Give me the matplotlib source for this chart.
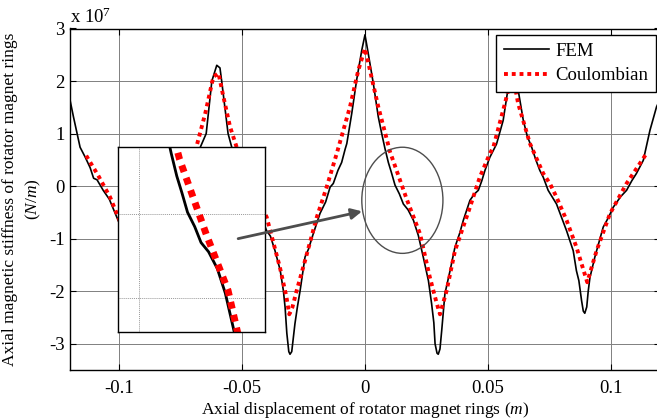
import matplotlib
matplotlib.use("Agg")
import matplotlib.pyplot as plt
from matplotlib.patches import Ellipse, FancyArrowPatch

plt.rcParams['font.family'] = 'Liberation Serif'
plt.rcParams['mathtext.fontset'] = 'custom'
plt.rcParams['mathtext.rm'] = 'Liberation Serif'
plt.rcParams['mathtext.it'] = 'Liberation Serif:italic'
plt.rcParams['axes.unicode_minus'] = False

# stiffness values in units of 1e7 N/m
fem_x = [-0.1200, -0.1186, -0.1159, -0.1138, -0.1118, -0.1104, -0.1090, -0.1065, -0.1040,
         -0.1000, -0.0960, -0.0930, -0.0915, -0.0905, -0.0895, -0.0885, -0.0870, -0.0850,
         -0.0820, -0.0780, -0.0740, -0.0710, -0.0680,
         -0.0670, -0.0646, -0.0623, -0.0603, -0.0590, -0.0583, -0.0557, -0.0542,
         -0.0520, -0.0490, -0.0460, -0.0430,
         -0.0400, -0.0385, -0.0366, -0.0345, -0.0332, -0.0325, -0.0318, -0.0310, -0.0305,
         -0.0298, -0.0292, -0.0285, -0.0275, -0.0264, -0.0244, -0.0230, -0.0210, -0.0183,
         -0.0160, -0.0142, -0.0129, -0.0110, -0.0095, -0.0081, -0.0074, -0.0054, -0.0034,
         -0.0013, 0.0000, 0.0013, 0.0034, 0.0054, 0.0068, 0.0081, 0.0095, 0.0108, 0.0122,
         0.0140, 0.0156, 0.0175, 0.0197, 0.0217, 0.0237, 0.0258, 0.0271, 0.0280, 0.0285,
         0.0293, 0.0298, 0.0305, 0.0312, 0.0325, 0.0346, 0.0366, 0.0385, 0.0400, 0.0427,
         0.0445, 0.0461, 0.0475, 0.0488, 0.0508, 0.0535, 0.0562, 0.0583, 0.0595, 0.0603,
         0.0612, 0.0623, 0.0644, 0.0660, 0.0678, 0.0695, 0.0711, 0.0725, 0.0745, 0.0779,
         0.0800, 0.0820, 0.0847, 0.0860, 0.0870, 0.0881, 0.0888, 0.0894, 0.0902, 0.0908,
         0.0915, 0.0935, 0.0950, 0.0969, 0.0990, 0.1010, 0.1040, 0.1064, 0.1085, 0.1104,
         0.1132, 0.1159, 0.1186, 0.1200]
fem_k = [1.64, 1.32, 0.74, 0.55, 0.35, 0.15, 0.12, -0.08, -0.25,
         -0.70, -1.25, -1.75, -2.10, -2.40, -2.35, -2.00, -1.60, -1.25,
         -0.85, -0.35, 0.05, 0.35, 0.62,
         0.74, 1.00, 2.00, 2.30, 2.25, 2.00, 1.00, 0.74,
         0.45, 0.10, -0.20, -0.50,
         -0.85, -0.95, -1.23, -1.60, -1.99, -2.31, -2.80, -3.15, -3.20,
         -3.15, -2.90, -2.62, -2.30, -1.99, -1.35, -1.20, -0.90, -0.52,
         -0.30, -0.02, 0.05, 0.30, 0.45, 0.70, 0.81, 1.38, 2.02,
         2.59, 2.88, 2.53, 1.95, 1.32, 1.00, 0.72, 0.45, 0.25, 0.02,
         -0.15, -0.34, -0.45, -0.65, -0.94, -1.35, -1.80, -2.24, -2.60, -3.00,
         -3.18, -3.20, -3.10, -2.75, -2.05, -1.61, -1.16, -0.90, -0.65, -0.27,
         -0.15, -0.08, 0.10, 0.30, 0.55, 0.80, 1.25, 1.89, 2.20, 2.30,
         2.20, 1.83, 1.25, 0.95, 0.74, 0.50, 0.30, 0.17, -0.08, -0.34,
         -0.60, -0.85, -1.23, -1.61, -1.80, -2.18, -2.38, -2.42, -2.30, -2.00,
         -1.74, -1.35, -1.10, -0.78, -0.60, -0.40, -0.20, -0.08, 0.10, 0.24,
         0.49, 1.06, 1.51, 1.65]

coul_x = [-0.1134, -0.1085, -0.1037, -0.0990, -0.0950, -0.0920, -0.0900, -0.0880, -0.0850,
          -0.0800, -0.0760, -0.0720, -0.0684, -0.0650, -0.0617, -0.0596, -0.0576, -0.0549,
          -0.0522, -0.0480, -0.0440, -0.0400, -0.0346, -0.0320, -0.0308, -0.0295, -0.0278,
          -0.0244, -0.0196, -0.0156, -0.0115, -0.0061, -0.0027, 0.0000, 0.0020, 0.0054,
          0.0102, 0.0169, 0.0224, 0.0264, 0.0290, 0.0305, 0.0332, 0.0366, 0.0427, 0.0467,
          0.0508, 0.0522, 0.0569, 0.0600, 0.0623, 0.0671, 0.0725, 0.0752, 0.0779, 0.0820,
          0.0860, 0.0904, 0.0942, 0.0996, 0.1064, 0.1145]
coul_k = [0.58, 0.20, -0.21, -0.75, -1.25, -1.65, -1.83, -1.60, -1.20,
          -0.60, -0.10, 0.35, 0.78, 1.38, 2.08, 2.15, 1.70, 1.13,
          0.74, 0.20, -0.20, -0.59, -1.55, -2.10, -2.44, -2.30, -1.99,
          -1.42, -0.59, -0.02, 0.62, 1.51, 2.21, 2.62, 2.21, 1.51,
          0.65, -0.24, -0.91, -1.74, -2.20, -2.44, -1.99, -1.23, -0.40, 0.17,
          0.62, 0.74, 1.57, 2.15, 1.57, 0.81, 0.24, 0.05, -0.21, -0.65,
          -1.16, -1.83, -1.23, -0.53, 0.05, 0.62]

x_ticks = [-0.1, -0.05, 0, 0.05, 0.1]
x_ticklabels = ['-0.1', '-0.05', '0', '0.05', '0.1']
y_ticks = [-3, -2, -1, 0, 1, 2, 3]
y_ticklabels = ['-3', '-2', '-1', '0', '1', '2', '3']

W, H = 657, 420
fig = plt.figure(figsize=(6.57, 4.2), dpi=100)
ax = fig.add_axes([70 / W, 50 / H, 590 / W, 341.5 / H])

ax.plot(fem_x, fem_k, color='black', lw=1.2, label='FEM', zorder=3)
ax.plot(coul_x, coul_k, color='red', lw=2.8, dashes=(1, 1), label='Coulombian', zorder=3)

ax.set_xlim(-0.12, 0.12)
ax.set_ylim(-3.5, 3)
ax.set_xticks(x_ticks)
ax.set_xticklabels(x_ticklabels)
ax.set_yticks(y_ticks)
ax.set_yticklabels(y_ticklabels)
ax.tick_params(direction='in', top=True, right=True, length=4, width=0.8,
               labelsize=13.5)
ax.tick_params(axis='x', pad=7)
ax.tick_params(axis='y', pad=4)
ax.grid(True, color='0.5', lw=0.7)
for s in ax.spines.values():
    s.set_linewidth(1.0)

ax.text(0.0, 1.005, r'x 10$^7$', transform=ax.transAxes, fontsize=13.5,
        ha='left', va='bottom')
ax.set_xlabel(r'Axial displacement of rotator magnet rings ($m$)', fontsize=12.5, labelpad=2)
ax.set_ylabel('Axial magnetic stiffness of rotator magnet rings\n' + r'($N/m$)',
              fontsize=12.5, linespacing=1.4)
ax.yaxis.set_label_coords(-0.046, 0.5)

leg = ax.legend(loc='upper right', bbox_to_anchor=(0.993, 0.981), borderaxespad=0,
                fancybox=False, edgecolor='black', framealpha=1, fontsize=13.5,
                handlelength=2.4, borderpad=0.4, labelspacing=0.4, handletextpad=0.35)
leg.get_frame().set_linewidth(1.0)

# ellipse marking the zoomed region
ax.add_patch(Ellipse((0.0152, -0.27), 0.033, 2.02, fill=False, edgecolor='0.3',
                     lw=1.0, zorder=4))

# inset axes with a close-up
ax_in = fig.add_axes([118 / W, (H - 331.7) / H, 147 / W, 185 / H])
ax_in.plot(fem_x, fem_k, color='black', lw=2.0)
ax_in.plot(coul_x, coul_k, color='red', lw=5, dashes=(1, 0.9))
ax_in.set_xlim(-0.0053, 0.0317)
ax_in.set_ylim(-1.4, 0.8)
ax_in.set_xticks([0])
ax_in.set_yticks([-1, 0])
ax_in.tick_params(length=0, labelbottom=False, labelleft=False)
ax_in.grid(True, color='0.6', lw=0.7, ls=(0, (1, 1)))
for s in ax_in.spines.values():
    s.set_linewidth(1.0)

arrow = FancyArrowPatch((-0.0516, -1.0), (-0.0012, -0.48), transform=ax.transData,
                        arrowstyle='-|>', mutation_scale=16, color='0.3', lw=2.0,
                        shrinkA=0, shrinkB=0, zorder=5)
fig.add_artist(arrow)

fig.savefig('out.png', dpi=100)
